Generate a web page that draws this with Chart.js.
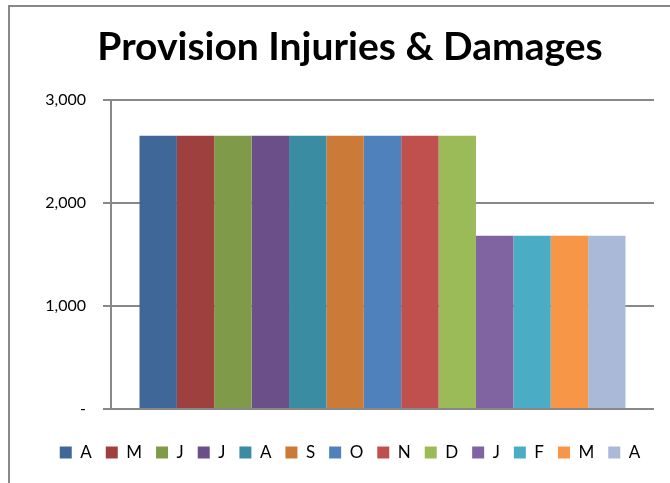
<!DOCTYPE html>
<html>
<head>
<meta charset="utf-8">
<script src="https://cdn.jsdelivr.net/npm/chart.js@4/dist/chart.umd.min.js"></script>
<style>
    html, body { margin: 0; padding: 0; background: #ffffff; }
    #wrap { position: relative; width: 670px; height: 483px; }
</style>
</head>
<body>
<div id="wrap"><canvas id="chartProvision" width="670" height="483"></canvas></div>
<script>

// Datos
const categorias = [""];
const meses = ["A", "M", "J", "J", "A", "S", "O", "N", "D", "J", "F", "M", "A"];
const valores = [2650, 2650, 2650, 2650, 2650, 2650, 2650, 2650, 2650, 1680, 1680, 1680, 1680];
const colores = [
    "#3F6797", "#9E403D", "#7F9A48", "#6A4F88", "#3A8CA3", "#CC7A37",
    "#4F81BD", "#C0504D", "#9BBB59", "#8064A2", "#4BACC6", "#F79646", "#AAB9D7"
];
const ticksY = [0, 1000, 2000, 3000];

const gris = "#888888";
const fuente = "'Lato','Open Sans',sans-serif";

// Marco del gráfico (borde izquierdo y superior)
const marco = {
    id: "marco",
    beforeDraw(chart) {
        const ctx = chart.ctx;
        ctx.save();
        ctx.strokeStyle = gris;
        ctx.lineWidth = 2;
        ctx.beginPath();
        ctx.moveTo(9, chart.height);
        ctx.lineTo(9, 6);
        ctx.lineTo(chart.width, 6);
        ctx.stroke();
        ctx.restore();
    }
};

const datasets = meses.map((m, i) => ({
    label: m,
    data: [valores[i]],
    backgroundColor: colores[i],
    borderWidth: 0
}));

new Chart(document.getElementById("chartProvision"), {
    type: "bar",
    data: { labels: categorias, datasets: datasets },
    plugins: [marco],
    options: {
        responsive: false,
        animation: false,
        categoryPercentage: 0.895,
        barPercentage: 1,
        layout: { padding: { left: 36, right: 6, top: 0, bottom: 12 } },
        plugins: {
            title: {
                display: true,
                text: "Provision Injuries & Damages",
                color: "#000000",
                font: { family: fuente, size: 39, weight: "bold" },
                padding: { top: 24, bottom: 29 }
            },
            legend: {
                position: "bottom",
                labels: {
                    boxWidth: 12,
                    boxHeight: 12,
                    padding: 14,
                    color: "#000000",
                    font: { family: fuente, size: 17 }
                }
            },
            tooltip: { enabled: false }
        },
        scales: {
            x: {
                ticks: { display: false },
                grid: { display: false },
                border: { display: false },
                afterFit(axis) { axis.height += 13; }
            },
            y: {
                min: 0,
                max: 3000,
                afterBuildTicks(axis) {
                    axis.ticks = ticksY.map(v => ({ value: v }));
                },
                afterFit(axis) { axis.width = 75; },
                ticks: {
                    padding: 17,
                    color: "#000000",
                    font: { family: fuente, size: 16 },
                    callback: v => v === 0 ? "-" : v.toLocaleString("en-US")
                },
                grid: { color: gris, lineWidth: 2, tickLength: 8 },
                border: { color: gris, width: 2 }
            },
            // margen derecho del área de trazado
            margenDer: {
                type: "linear",
                position: "right",
                ticks: { display: false },
                grid: { display: false },
                border: { display: false },
                afterFit(axis) { axis.width = 10; }
            }
        }
    }
});

</script>
</body>
</html>
